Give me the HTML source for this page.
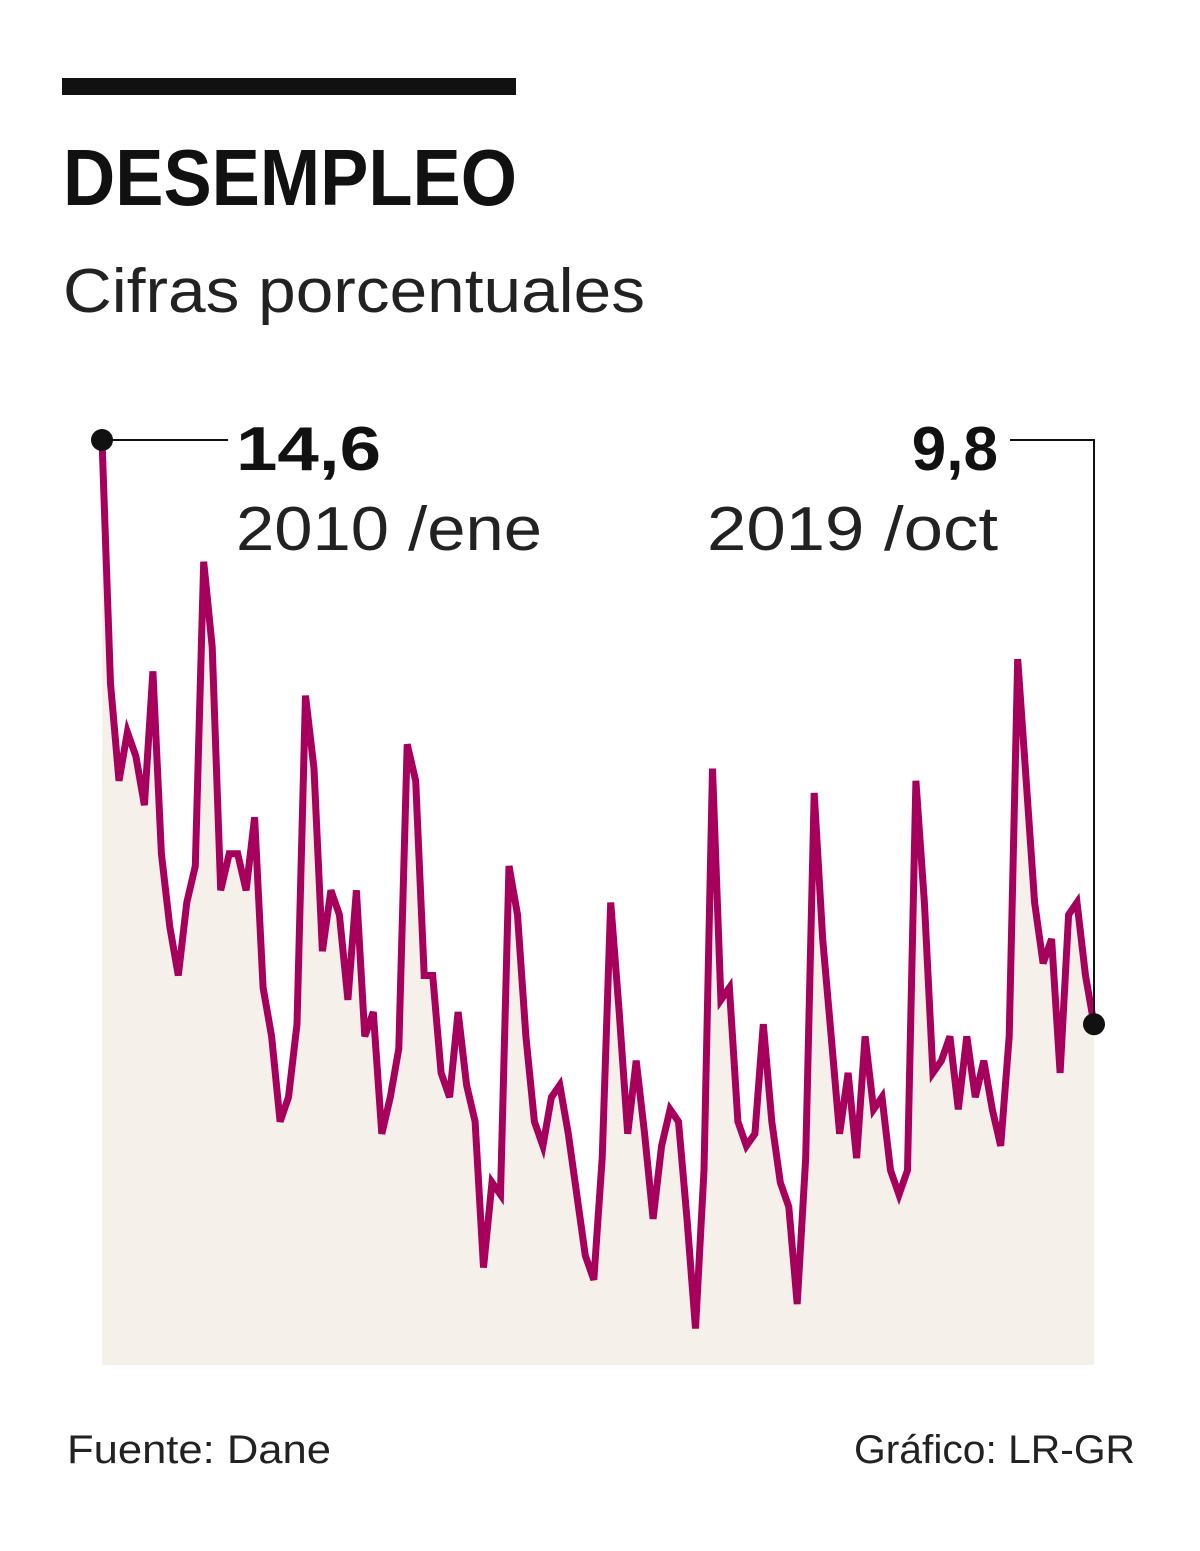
<!DOCTYPE html>
<html><head><meta charset="utf-8"><style>
html,body{margin:0;padding:0;background:#fff;}
svg{display:block;font-family:"Liberation Sans",sans-serif;}
</style></head><body>
<svg id="chart" width="1200" height="1551" viewBox="0 0 1200 1551">
<rect x="62" y="78" width="454" height="17" fill="#111"/>
<text x="63" y="205" font-size="80" font-weight="bold" fill="#111" textLength="454" lengthAdjust="spacingAndGlyphs">DESEMPLEO</text>
<text x="63" y="312" font-size="62" fill="#222" textLength="582" lengthAdjust="spacingAndGlyphs">Cifras porcentuales</text>
<g id="plot"></g>
<line x1="102" y1="440" x2="228" y2="440" stroke="#111" stroke-width="2"/>
<polyline points="1010,440 1094,440 1094,1025" fill="none" stroke="#111" stroke-width="2"/>
<text x="236" y="470" font-size="62" font-weight="bold" fill="#111" textLength="145" lengthAdjust="spacingAndGlyphs">14,6</text>
<text x="236" y="550" font-size="62" fill="#222" textLength="306" lengthAdjust="spacingAndGlyphs">2010 /ene</text>
<text x="998" y="470" font-size="62" font-weight="bold" fill="#111" text-anchor="end">9,8</text>
<text x="998" y="550" font-size="62" fill="#222" text-anchor="end" textLength="291" lengthAdjust="spacingAndGlyphs">2019 /oct</text>
<text x="67" y="1463" font-size="40" fill="#222" textLength="264" lengthAdjust="spacingAndGlyphs">Fuente: Dane</text>
<text x="1135" y="1463" font-size="40" fill="#222" text-anchor="end" textLength="281" lengthAdjust="spacingAndGlyphs">Gráfico: LR-GR</text>
</svg>
<script>
const startLabel = "2010-01";
const values = [14.6,12.6,11.8,12.2,12.0,11.6,12.7,11.2,10.6,10.2,10.8,11.1,
13.6,12.9,10.9,11.2,11.2,10.9,11.5,10.1,9.7,9.0,9.2,9.8,
12.5,11.9,10.4,10.9,10.7,10.0,10.9,9.7,9.9,8.9,9.2,9.6,
12.1,11.8,10.2,10.2,9.4,9.2,9.9,9.3,9.0,7.8,8.5,8.4,
11.1,10.7,9.7,9.0,8.8,9.2,9.3,8.9,8.4,7.9,7.7,8.7,
10.8,9.9,8.9,9.5,8.9,8.2,8.8,9.1,9.0,8.2,7.3,8.6,
11.9,10.0,10.1,9.0,8.8,8.9,9.8,9.0,8.5,8.3,7.5,8.7,
11.7,10.5,9.7,8.9,9.4,8.7,9.7,9.1,9.2,8.6,8.4,8.6,
11.8,10.8,9.4,9.5,9.7,9.1,9.7,9.2,9.5,9.1,8.8,9.7,
12.8,11.8,10.8,10.3,10.5,9.4,10.7,10.8,10.2,9.8];
const yDomain = [7.0, 14.6];

const X0=102, X1=1094, YB=1365, YT=440;
function xScale(i){return X0+(X1-X0)*i/(values.length-1);}
function yScale(v){return YB-(v-yDomain[0])/(yDomain[1]-yDomain[0])*(YB-YT);}
const NS="http://www.w3.org/2000/svg";
const g=document.getElementById('plot');
const pts=values.map((v,i)=>xScale(i).toFixed(1)+","+yScale(v).toFixed(1));
const area=document.createElementNS(NS,'polygon');
area.setAttribute('points',X0+","+YB+" "+pts.join(" ")+" "+X1+","+YB);
area.setAttribute('fill','#f5f1ea');


g.appendChild(area);
const line=document.createElementNS(NS,'polyline');
line.setAttribute('points',pts.join(" "));
line.setAttribute('fill','none');
line.setAttribute('stroke','#a6005c');
line.setAttribute('stroke-width','7');
line.setAttribute('stroke-linejoin','miter');


g.appendChild(line);
[[0,'start-point'],[values.length-1,'end-point']].forEach(([i,n])=>{
  const c=document.createElementNS(NS,'circle');
  c.setAttribute('cx',xScale(i));c.setAttribute('cy',yScale(values[i]));
  c.setAttribute('r','11');c.setAttribute('fill','#111');
  
  
  document.getElementById('chart').appendChild(c);
});
</script>
</body></html>
